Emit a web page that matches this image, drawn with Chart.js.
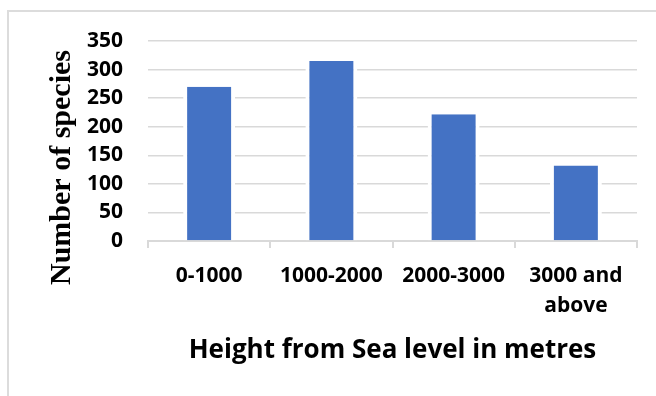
<!DOCTYPE html>
<html>
<head>
<meta charset="utf-8">
<script src="https://cdn.jsdelivr.net/npm/chart.js@4/dist/chart.umd.min.js"></script>
<style>
  html, body { margin: 0; padding: 0; background: #fff; }
  #wrap { position: relative; width: 656px; height: 396px; overflow: hidden; }
  #frame { position: absolute; left: 7px; top: 10px; width: 700px; height: 420px;
           border-left: 2px solid #dcdcdc; border-top: 2px solid #dcdcdc; }
  canvas { position: absolute; left: 0; top: 0; }
</style>
</head>
<body>
<div id="wrap">
  <div id="frame"></div>
  <canvas id="chart" width="656" height="396"></canvas>
</div>
<script>
// Altitude bands and the number of species recorded in each
const categories = [['0-1000'], ['1000-2000'], ['2000-3000'], ['3000 and', 'above']];
const speciesCounts = [270, 315, 222, 132];
const yTicks = [0, 50, 100, 150, 200, 250, 300, 350];
const xTitle = 'Height from Sea level in metres';
const yTitle = 'Number of species';

// Axis titles drawn on the canvas around the plot
const axisTitles = {
  id: 'axisTitles',
  afterDraw(chart) {
    const { ctx, chartArea } = chart;
    ctx.save();
    ctx.fillStyle = '#000';
    ctx.font = 'bold 26px "Open Sans"';
    ctx.textAlign = 'center';
    ctx.textBaseline = 'alphabetic';
    ctx.fillText(xTitle, (chartArea.left + chartArea.right) / 2, 358);

    ctx.font = 'bold 30px "Liberation Serif"';
    ctx.translate(70, 167.5);
    ctx.rotate(-Math.PI / 2);
    ctx.fillText(yTitle, 0, 0);
    ctx.restore();
  }
};

new Chart(document.getElementById('chart'), {
  type: 'bar',
  data: {
    labels: categories,
    datasets: [{
      data: speciesCounts,
      backgroundColor: '#4472c4',
      borderColor: '#ffffff',
      borderWidth: { left: 4, right: 4, top: 0, bottom: 0 },
      borderSkipped: false,
      barPercentage: 0.425,
      categoryPercentage: 1.0
    }]
  },
  options: {
    responsive: false,
    animation: false,
    events: [],
    layout: { padding: { left: 0, top: 41, right: 19, bottom: 0 } },
    plugins: {
      legend: { display: false },
      tooltip: { enabled: false },
      title: { display: false }
    },
    scales: {
      x: {
        grid: {
          offset: true,
          drawOnChartArea: false,
          drawTicks: true,
          tickLength: 7,
          color: '#d9d9d9',
          lineWidth: 2
        },
        border: { display: true, color: '#d9d9d9', width: 2 },
        ticks: {
          color: '#000',
          font: { family: 'Open Sans', weight: 'bold', size: 21, lineHeight: 1.43 },
          padding: 13,
          maxRotation: 0,
          autoSkip: false
        },
        afterFit(scale) { scale.height = 155; }
      },
      y: {
        min: 0,
        max: 350,
        afterBuildTicks(scale) { scale.ticks = yTicks.map(v => ({ value: v })); },
        grid: { color: '#d9d9d9', lineWidth: 1.5, drawTicks: false },
        border: { display: false },
        ticks: {
          color: '#000',
          font: { family: 'Open Sans', weight: 'bold', size: 21 },
          padding: 25
        },
        afterFit(scale) { scale.width = 148; }
      }
    }
  },
  plugins: [axisTitles]
});
</script>
</body>
</html>
